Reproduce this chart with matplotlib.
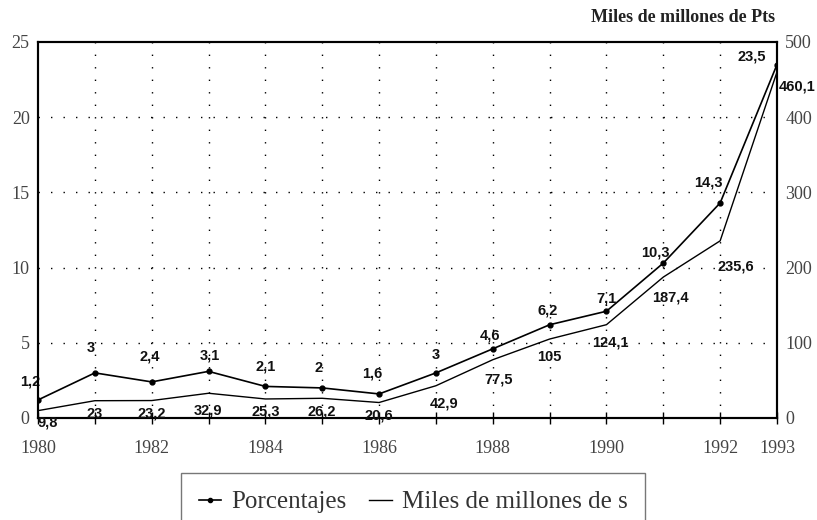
import matplotlib
matplotlib.use("Agg")
import matplotlib.pyplot as plt
from matplotlib.lines import Line2D

years = list(range(1980, 1994))
porcentajes = [1.2, 3, 2.4, 3.1, 2.1, 2, 1.6, 3, 4.6, 6.2, 7.1, 10.3, 14.3, 23.5]
miles = [9.8, 23, 23.2, 32.9, 25.3, 26.2, 20.6, 42.9, 77.5, 105, 124.1, 187.4, 235.6, 460.1]
pct_labels = ["1,2", "3", "2,4", "3,1", "2,1", "2", "1,6", "3", "4,6", "6,2", "7,1", "10,3", "14,3", "23,5"]
miles_labels = ["9,8", "23", "23,2", "32,9", "25,3", "26,2", "20,6", "42,9", "77,5", "105", "124,1", "187,4", "235,6", "460,1"]
xtick_years = [1980, 1982, 1984, 1986, 1988, 1990, 1992, 1993]
left_ticks = [0, 5, 10, 15, 20, 25]
right_ticks = [0, 100, 200, 300, 400, 500]

# label offsets in pixels (style only)
pct_off = [(-8, 18), (-4, 25), (-2, 25), (1, 16), (0, 20), (-4, 20), (-7, 20), (0, 18),
           (-3, 13), (-2, 14), (0, 13), (-8, 11), (-12, 20), (-25, 8)]
mil_off = [(10, -12), (0, -13), (0, -13), (-1, -17), (0, -13), (0, -13), (0, -13), (8, -18),
           (6, -20), (0, -18), (4, -18), (7, -20), (16, -26), (20, -14)]

fig = plt.figure(figsize=(8.17, 5.2), dpi=100)
ax = fig.add_axes([38/817, 1-418/520, (777-38)/817, (418-42)/520])
ax2 = ax.twinx()

ax.set_xlim(1980, 1993)
ax.set_ylim(0, 25)
ax2.set_ylim(0, 500)

serif = "Liberation Serif"
sans = "Liberation Sans"

# grid
for y in [5, 10, 15, 20]:
    ax.axhline(y, color="black", lw=1.0, ls=(0, (1, 8)), zorder=1)
for x in years[1:-1]:
    ax.axvline(x, color="black", lw=1.0, ls=(0, (1, 8)), zorder=1)

ax.plot(years, porcentajes, color="black", lw=1.2, marker="o", ms=3.5, zorder=3)
ax2.plot(years, miles, color="black", lw=1.0, zorder=3)

for x, v, t, (dx, dy) in zip(years, porcentajes, pct_labels, pct_off):
    ax.annotate(t, (x, v), xytext=(dx, dy), textcoords="offset pixels",
                ha="center", va="center", fontsize=10.5, fontweight="bold",
                family=sans, color="#111111", zorder=4)
for x, v, t, (dx, dy) in zip(years, miles, miles_labels, mil_off):
    ax2.annotate(t, (x, v), xytext=(dx, dy), textcoords="offset pixels",
                 ha="center", va="center", fontsize=10.5, fontweight="bold",
                 family=sans, color="#111111", zorder=4, annotation_clip=False)

ax.set_xticks(years)
ax.set_xticklabels([str(y) if y in xtick_years else "" for y in years],
                   family=serif, fontsize=13, color="#444444")
ax.tick_params(axis="x", direction="inout", length=9, width=1, pad=11)
ax.set_yticks(left_ticks)
ax.set_yticklabels([str(t) for t in left_ticks], family=serif, fontsize=13, color="#444444")
ax.tick_params(axis="y", length=0, pad=6)
ax2.set_yticks(right_ticks)
ax2.set_yticklabels([str(t) for t in right_ticks], family=serif, fontsize=13, color="#444444")
ax2.tick_params(axis="y", length=0, pad=6)

for a in (ax, ax2):
    for s in a.spines.values():
        s.set_linewidth(1.5)
        s.set_color("black")

fig.text(775/817, 1-18/520, "Miles de millones de Pts", ha="right", va="center",
         family=serif, fontsize=13, fontweight="bold", color="#222222")

handles = [Line2D([], [], color="black", lw=1.2, marker="o", ms=3),
           Line2D([], [], color="black", lw=1.0)]
leg = fig.legend(handles, ["Porcentajes", "Miles de millones de s"],
                 loc="lower center", bbox_to_anchor=(413/817, -0.045), ncol=2,
                 prop={"family": serif, "size": 18}, handlelength=0.9,
                 handletextpad=0.4, columnspacing=0.9, frameon=True,
                 fancybox=False, borderpad=0.7)
leg.get_frame().set_edgecolor("#555555")
leg.get_frame().set_linewidth(1.0)
for t in leg.get_texts():
    t.set_color("#333333")

fig.savefig("out.png", dpi=100)
